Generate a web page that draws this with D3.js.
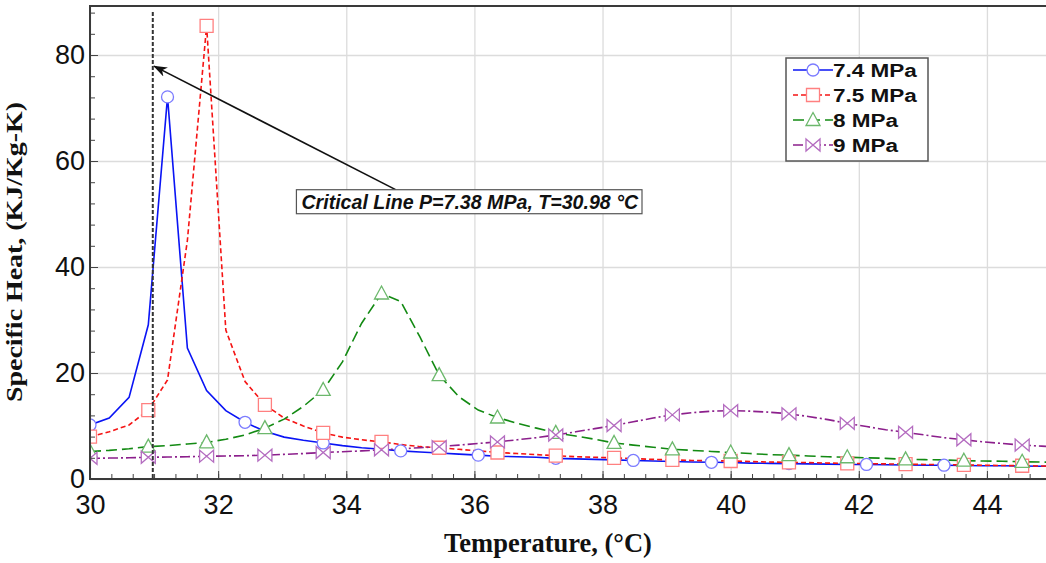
<!DOCTYPE html>
<html>
<head>
<meta charset="utf-8">
<script src="https://cdn.jsdelivr.net/npm/d3@7"></script>
<style>
  body { margin: 0; background: #fff; }
  svg { display: block; }
</style>
</head>
<body>
<div id="chart"></div>
<script>
// temperatures (°C) shared by all the curves
let temps = [30.00, 30.30, 30.61, 30.91, 31.21, 31.52, 31.82, 32.12, 32.42, 32.73,
             33.03, 33.33, 33.64, 33.94, 34.24, 34.55, 34.85, 35.15, 35.45, 35.76,
             36.06, 36.36, 36.67, 36.97, 37.27, 37.58, 37.88, 38.18, 38.48, 38.79,
             39.09, 39.39, 39.70, 40.00, 40.30, 40.61, 40.91, 41.21, 41.52, 41.82,
             42.12, 42.42, 42.73, 43.03, 43.33, 43.64, 43.94, 44.24, 44.55, 44.85, 45.15];

// specific heat, KJ/Kg-K
let cp74 = [10.2, 11.5, 15.4, 29.1, 72.1, 24.7, 16.7, 12.9, 10.7, 9.0,
            7.9, 7.3, 6.8, 6.3, 5.9, 5.6, 5.3, 5.1, 4.9, 4.7,
            4.5, 4.3, 4.2, 4.1, 3.9, 3.8, 3.7, 3.6, 3.5, 3.4,
            3.3, 3.2, 3.15, 3.1, 3.0, 2.95, 2.9, 2.85, 2.8, 2.75,
            2.75, 2.7, 2.65, 2.6, 2.6, 2.55, 2.5, 2.5, 2.45, 2.4, 2.4];
let cp75 = [8.0, 8.9, 10.2, 13.0, 18.7, 45.0, 85.5, 28.1, 18.4, 14.0,
            11.5, 10.0, 8.7, 7.9, 7.4, 7.0, 6.5, 6.1, 5.9, 5.6,
            5.3, 5.0, 4.8, 4.6, 4.4, 4.2, 4.1, 4.0, 3.85, 3.7,
            3.6, 3.5, 3.45, 3.4, 3.3, 3.2, 3.15, 3.1, 3.0, 2.95,
            2.9, 2.85, 2.8, 2.75, 2.7, 2.65, 2.6, 2.55, 2.5, 2.45, 2.4];
let cp8 = [5.2, 5.4, 5.7, 6.1, 6.3, 6.6, 6.9, 7.5, 8.3, 9.6,
           11.3, 13.7, 16.8, 22.1, 29.4, 35.0, 33.5, 26.8, 19.6, 15.5,
           13.0, 11.6, 10.5, 9.6, 8.7, 8.1, 7.5, 6.8, 6.4, 6.0,
           5.6, 5.4, 5.2, 5.0, 4.8, 4.6, 4.5, 4.35, 4.2, 4.1,
           4.0, 3.9, 3.7, 3.65, 3.6, 3.45, 3.4, 3.35, 3.25, 3.2, 3.15];
let cp9 = [3.9, 3.95, 4.0, 4.1, 4.15, 4.2, 4.3, 4.35, 4.4, 4.5,
           4.65, 4.8, 5.0, 5.15, 5.3, 5.5, 5.7, 5.9, 6.1, 6.4,
           6.7, 7.0, 7.4, 7.8, 8.3, 8.9, 9.5, 10.1, 10.8, 11.5,
           12.1, 12.5, 12.8, 12.9, 12.8, 12.6, 12.3, 11.8, 11.2, 10.5,
           9.9, 9.3, 8.8, 8.3, 7.8, 7.4, 7.0, 6.7, 6.4, 6.2, 6.0];

let seriesNames = ['7.4 MPa', '7.5 MPa', '8 MPa', '9 MPa'];
let xTicks = [30, 32, 34, 36, 38, 40, 42, 44];
let yTicks = [0, 20, 40, 60, 80];
let critT = 30.98;
let critLabel = 'Critical Line P=7.38 MPa, T=30.98 °C';

let styles = [
    {values: cp74, color: '#0a14f5', mark: '#7b7bff', dash: null, shape: 'circle', every: 4},
    {values: cp75, color: '#f51414', mark: '#ff8080', dash: '5,3', shape: 'square', every: 3},
    {values: cp8, color: '#138a13', mark: '#6cb86c', dash: '11,5', shape: 'triangle', every: 3},
    {values: cp9, color: '#8c1f8c', mark: '#b46cc0', dash: '10,3,2,3', shape: 'bowtie', every: 3}
];

let svgWidth = 1046;
let svgHeight = 563;
let margin = {top: 6, right: -5, bottom: 84, left: 90};
let width = svgWidth - margin.left - margin.right;
let height = svgHeight - margin.top - margin.bottom;

let svg = d3.select('#chart')
    .append('svg')
    .attr('width', svgWidth)
    .attr('height', svgHeight);

let chartGroup = svg.append('g')
    .attr('transform', `translate(${margin.left}, ${margin.top})`);

let xScale = d3.scaleLinear().domain([30, 45]).range([0, width]);
let yScale = d3.scaleLinear().domain([0, 89.25]).range([height, 0]);

let xMinor = d3.range(0, 46).map(i => 30 + i / 3);
let yMinor = d3.range(0, 23).map(i => i * 4);

svg.append('defs').append('clipPath').attr('id', 'plotClip')
    .append('rect').attr('width', width).attr('height', height);

// grid
chartGroup.append('g')
    .attr('transform', `translate(0, ${height})`)
    .call(d3.axisBottom(xScale).tickValues(xTicks).tickSize(-height).tickFormat(''))
    .call(g => g.select('.domain').remove())
    .call(g => g.selectAll('line').attr('stroke', '#dcdcdc').attr('stroke-width', 1.3));
chartGroup.append('g')
    .call(d3.axisLeft(yScale).tickValues(yTicks).tickSize(-width).tickFormat(''))
    .call(g => g.select('.domain').remove())
    .call(g => g.selectAll('line').attr('stroke', '#dcdcdc').attr('stroke-width', 1.3));

function symbolPath(shape) {
    if (shape === 'circle') return 'M-6,0A6,6 0 1,0 6,0A6,6 0 1,0 -6,0Z';
    if (shape === 'square') return 'M-6.5,-6.5H6.5V6.5H-6.5Z';
    if (shape === 'triangle') return 'M0,-7.5L7,5.5H-7Z';
    return 'M-7,-6L7,6V-6L-7,6Z';
}

let plot = chartGroup.append('g').attr('clip-path', 'url(#plotClip)');

let line = d3.line()
    .x((d, i) => xScale(temps[i]))
    .y(d => yScale(d));

styles.forEach(s => {
    plot.append('path')
        .datum(s.values)
        .attr('d', line)
        .attr('fill', 'none')
        .attr('stroke', s.color)
        .attr('stroke-width', 1.6)
        .attr('stroke-dasharray', s.dash);
});

styles.forEach(s => {
    plot.selectAll(null)
        .data(s.values.filter((d, i) => i % s.every === 0))
        .enter()
        .append('path')
            .attr('d', symbolPath(s.shape))
            .attr('transform', (d, i) => `translate(${xScale(temps[i * s.every])}, ${yScale(d)})`)
            .attr('fill', 'white')
            .attr('stroke', s.mark)
            .attr('stroke-width', 1.3);
});

// critical line
chartGroup.append('line')
    .attr('x1', xScale(critT)).attr('x2', xScale(critT))
    .attr('y1', yScale(88.1)).attr('y2', height)
    .attr('stroke', '#333')
    .attr('stroke-width', 2)
    .attr('stroke-dasharray', '4,2');

// arrow + label
svg.select('defs').append('marker')
    .attr('id', 'arrowHead')
    .attr('viewBox', '0 0 14 10')
    .attr('refX', 13).attr('refY', 5)
    .attr('markerWidth', 14).attr('markerHeight', 10)
    .attr('markerUnits', 'userSpaceOnUse')
    .attr('orient', 'auto')
    .append('path')
    .attr('d', 'M0,0L14,5L0,10L4,5Z')
    .attr('fill', '#111');

chartGroup.append('line')
    .attr('x1', xScale(34.77)).attr('y1', yScale(54.6))
    .attr('x2', xScale(31.0)).attr('y2', yScale(77.9))
    .attr('stroke', '#111')
    .attr('stroke-width', 1.6)
    .attr('marker-end', 'url(#arrowHead)');

let note = chartGroup.append('g');
let noteText = note.append('text')
    .attr('x', xScale(33.3))
    .attr('y', yScale(51.0))
    .attr('font-family', 'Liberation Sans, Arial, sans-serif')
    .attr('font-size', 19.6)
    .attr('font-weight', 'bold')
    .attr('font-style', 'italic')
    .attr('fill', '#111')
    .text(critLabel);
let nb = noteText.node().getBBox();
note.insert('rect', 'text')
    .attr('x', nb.x - 5).attr('y', nb.y - 1)
    .attr('width', nb.width + 8).attr('height', nb.height + 2)
    .attr('fill', 'white')
    .attr('stroke', '#555')
    .attr('stroke-width', 1.2);

// axes: minor ticks, major ticks with labels, frame
chartGroup.append('g')
    .attr('transform', `translate(0, ${height})`)
    .call(d3.axisBottom(xScale).tickValues(xMinor).tickSize(-5).tickFormat(''))
    .call(g => g.select('.domain').remove())
    .call(g => g.selectAll('line').attr('stroke', '#444'));
chartGroup.append('g')
    .call(d3.axisLeft(yScale).tickValues(yMinor).tickSize(-5).tickFormat(''))
    .call(g => g.select('.domain').remove())
    .call(g => g.selectAll('line').attr('stroke', '#444'));

let bottomAxis = chartGroup.append('g')
    .attr('transform', `translate(0, ${height})`)
    .call(d3.axisBottom(xScale).tickValues(xTicks).tickSize(-8).tickPadding(16));
let leftAxis = chartGroup.append('g')
    .call(d3.axisLeft(yScale).tickValues(yTicks).tickSize(-8).tickPadding(5));

[bottomAxis, leftAxis].forEach(a => {
    a.select('.domain').remove();
    a.selectAll('line').attr('stroke', '#444');
    a.selectAll('text')
        .attr('font-family', 'Liberation Sans, Arial, sans-serif')
        .attr('font-size', 27)
        .attr('fill', '#111');
});

chartGroup.append('path')
    .attr('d', `M${width},0H0V${height}H${width}`)
    .attr('fill', 'none')
    .attr('stroke', '#3a3a3a')
    .attr('stroke-width', 2);

// axis titles
svg.append('text')
    .attr('x', 548).attr('y', 552)
    .attr('text-anchor', 'middle')
    .attr('font-family', 'Liberation Serif, Times New Roman, serif')
    .attr('font-weight', 'bold')
    .attr('font-size', 26.5)
    .attr('fill', '#111')
    .text('Temperature, (°C)');
svg.append('text')
    .attr('transform', 'translate(22, 252) rotate(-90)')
    .attr('text-anchor', 'middle')
    .attr('font-family', 'Liberation Serif, Times New Roman, serif')
    .attr('font-weight', 'bold')
    .attr('font-size', 23)
    .attr('textLength', 300)
    .attr('lengthAdjust', 'spacingAndGlyphs')
    .attr('fill', '#111')
    .text('Specific Heat, (KJ/Kg-K)');

// legend
let legend = svg.append('g').attr('transform', 'translate(786, 58)');
legend.append('rect')
    .attr('width', 142).attr('height', 103)
    .attr('fill', 'white')
    .attr('stroke', '#555')
    .attr('stroke-width', 1.5);

styles.forEach((s, i) => {
    let row = legend.append('g').attr('transform', `translate(0, ${12 + i * 25})`);
    row.append('line')
        .attr('x1', 7).attr('x2', 47)
        .attr('stroke', s.color)
        .attr('stroke-width', 1.6)
        .attr('stroke-dasharray', s.dash);
    row.append('path')
        .attr('d', symbolPath(s.shape))
        .attr('transform', 'translate(27, 0)')
        .attr('fill', 'white')
        .attr('stroke', s.mark)
        .attr('stroke-width', 1.3);
    row.append('text')
        .attr('transform', 'translate(47, 6.5) scale(1.25, 1)')
        .attr('font-family', 'Liberation Sans, Arial, sans-serif')
        .attr('font-weight', 'bold')
        .attr('font-size', 18)
        .attr('fill', '#111')
        .text(seriesNames[i]);
});
</script>
</body>
</html>
